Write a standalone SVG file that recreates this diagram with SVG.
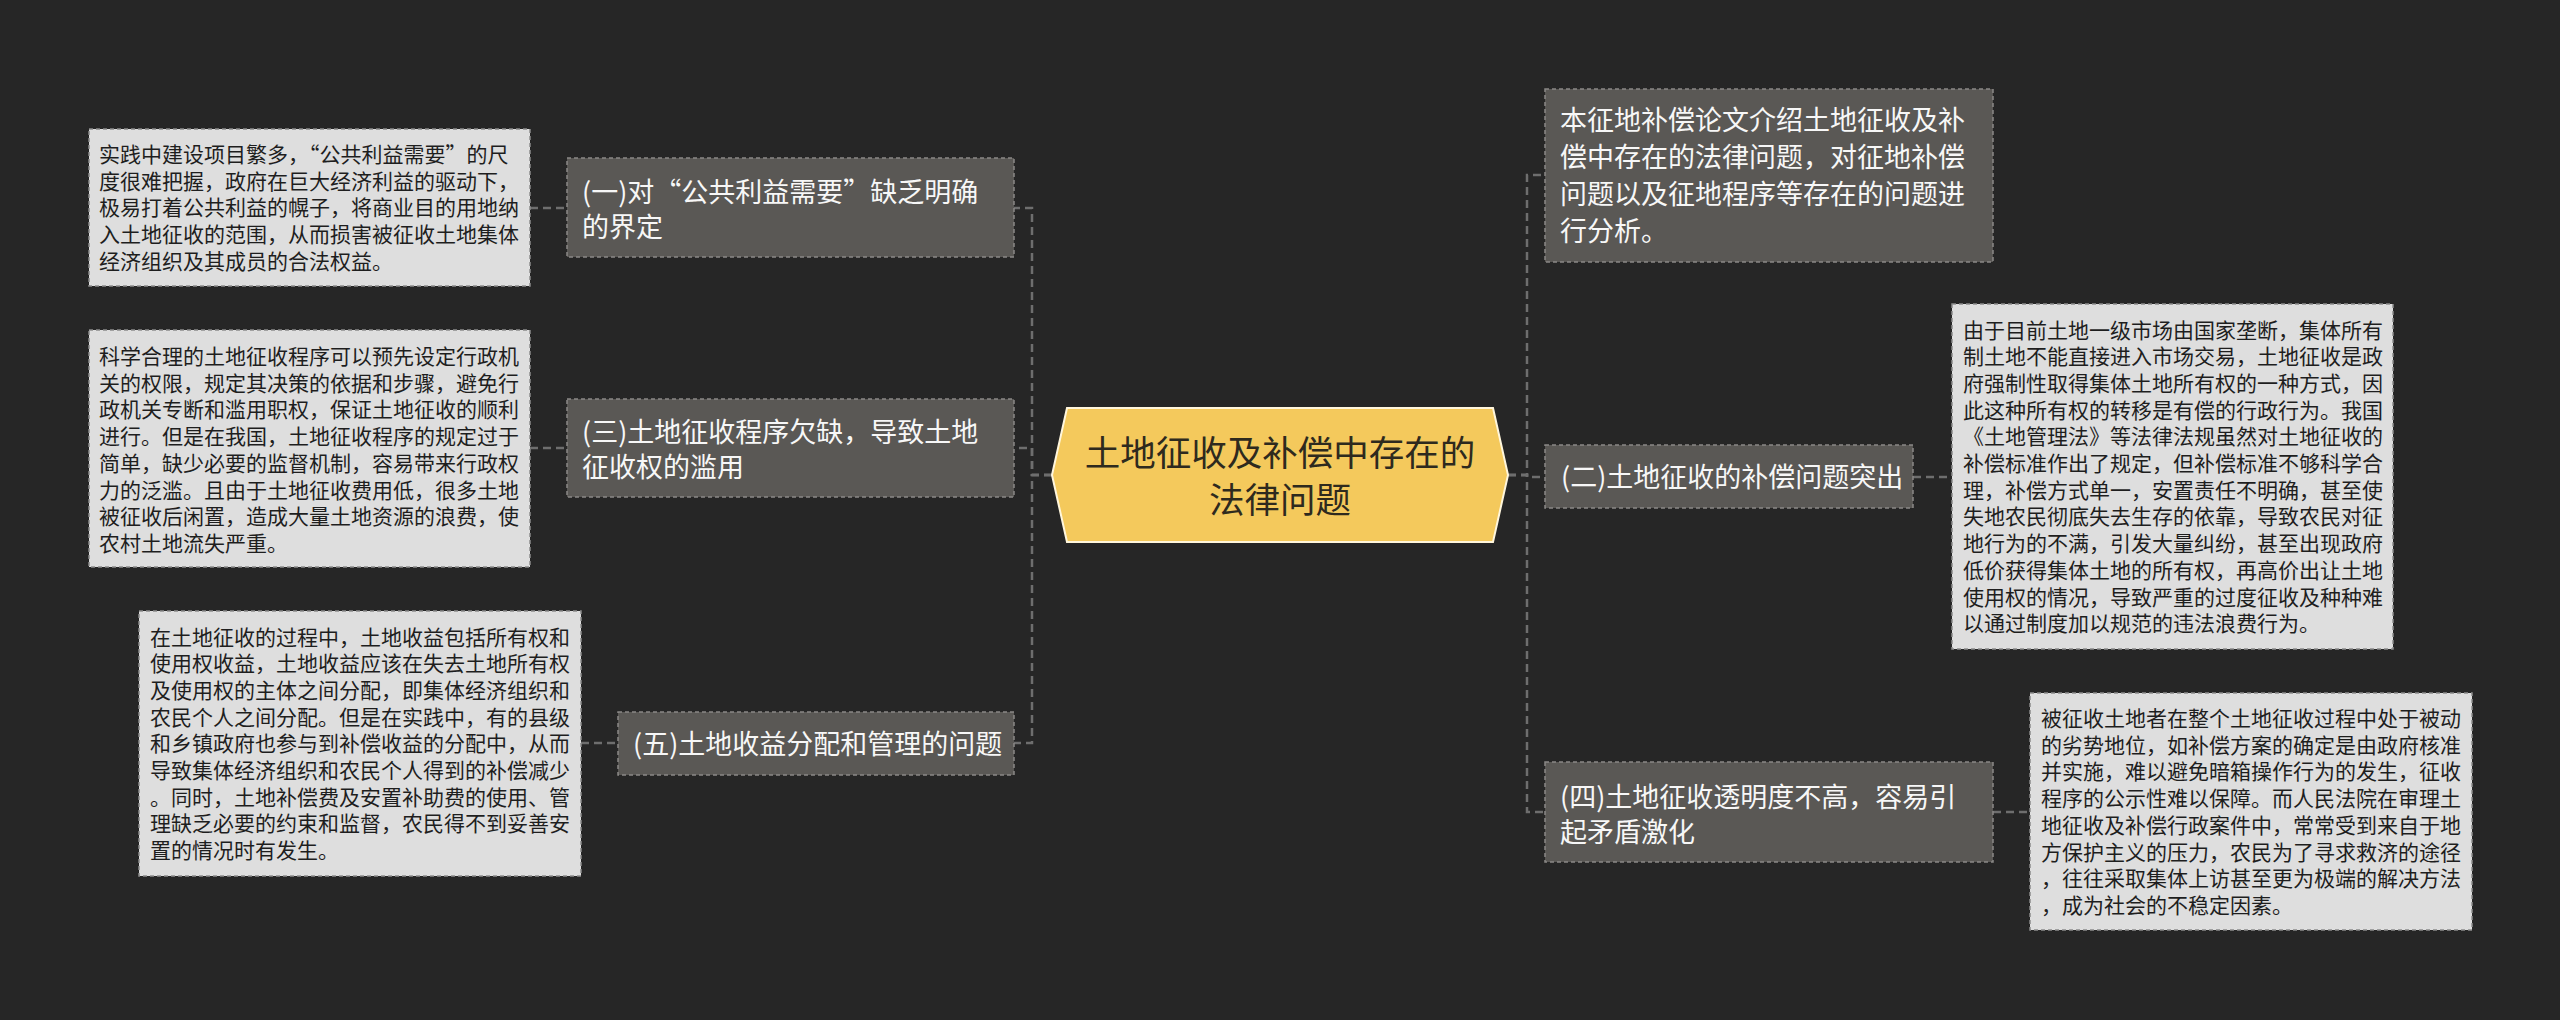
<svg xmlns="http://www.w3.org/2000/svg" width="2560" height="1020" viewBox="0 0 2560 1020">
<style>
.bg{fill:#262626}
.node rect{fill:#5a5855;stroke:#8a8886;stroke-width:1.5;stroke-dasharray:4 3}
.detail rect{fill:#dedede;stroke:#8c8c8c;stroke-width:1.5;stroke-dasharray:4 3}
.nt{font-family:"Noto Sans CJK SC","Noto Sans",sans-serif;font-size:27px;fill:#f7f7f7}
.dt{font-family:"Noto Sans CJK SC","Noto Sans",sans-serif;font-size:21px;fill:#1e1e1e}
.ct{font-family:"Noto Sans CJK SC","Noto Sans",sans-serif;font-size:35.5px;fill:#2e2a1e;text-anchor:middle}
.conn path{fill:none;stroke:#6e6e6e;stroke-width:2.5;stroke-dasharray:8 5}
</style>
<rect class="bg" x="0" y="0" width="2560" height="1020"/>

<g id="connectors" class="conn">
<path d="M1052,475 H1032 V208 H1014"/>
<path d="M1052,475 H1032 V448 H1014"/>
<path d="M1052,475 H1032 V743 H1014"/>
<path d="M1508,475 H1527 V175 H1545"/>
<path d="M1508,475 H1527 V477 H1545"/>
<path d="M1508,475 H1527 V812 H1545"/>
<path d="M530,208 H567"/>
<path d="M530,448 H567"/>
<path d="M581,743 H618"/>
<path d="M1913,477 H1952"/>
<path d="M1993,812 H2030"/>
</g>

<g id="center">
<polygon points="1052,475 1067,408 1493,408 1508,475 1493,542 1067,542" fill="#f4c95c" stroke="#fff6dc" stroke-width="2"/>
<text class="ct" x="1280" y="466">土地征收及补偿中存在的</text>
<text class="ct" x="1280" y="513">法律问题</text>
</g>

<g id="n1" class="node">
<rect x="567" y="158" width="447" height="99"/>
<text class="nt" x="582" y="202">(一)对“公共利益需要”缺乏明确</text>
<text class="nt" x="582" y="237">的界定</text>
</g>

<g id="n3" class="node">
<rect x="567" y="399" width="447" height="98"/>
<text class="nt" x="582" y="442">(三)土地征收程序欠缺，导致土地</text>
<text class="nt" x="582" y="477">征收权的滥用</text>
</g>

<g id="n5" class="node">
<rect x="618" y="712" width="396" height="63"/>
<text class="nt" x="633" y="753.5">(五)土地收益分配和管理的问题</text>
</g>

<g id="n0" class="node">
<rect x="1545" y="89" width="448" height="173"/>
<text class="nt" x="1560" y="130">本征地补偿论文介绍土地征收及补</text>
<text class="nt" x="1560" y="167">偿中存在的法律问题，对征地补偿</text>
<text class="nt" x="1560" y="204">问题以及征地程序等存在的问题进</text>
<text class="nt" x="1560" y="241">行分析。</text>
</g>

<g id="n2" class="node">
<rect x="1545" y="445" width="368" height="63"/>
<text class="nt" x="1561" y="486.5">(二)土地征收的补偿问题突出</text>
</g>

<g id="n4" class="node">
<rect x="1545" y="762" width="448" height="100"/>
<text class="nt" x="1560" y="807">(四)土地征收透明度不高，容易引</text>
<text class="nt" x="1560" y="842">起矛盾激化</text>
</g>

<g id="d1" class="detail">
<rect x="89" y="129" width="441" height="157"/>
<text class="dt" x="99" y="162">实践中建设项目繁多，“公共利益需要”的尺</text>
<text class="dt" x="99" y="188.7">度很难把握，政府在巨大经济利益的驱动下，</text>
<text class="dt" x="99" y="215.4">极易打着公共利益的幌子，将商业目的用地纳</text>
<text class="dt" x="99" y="242.1">入土地征收的范围，从而损害被征收土地集体</text>
<text class="dt" x="99" y="268.8">经济组织及其成员的合法权益。</text>
</g>

<g id="d3" class="detail">
<rect x="89" y="330" width="441" height="237"/>
<text class="dt" x="99" y="364">科学合理的土地征收程序可以预先设定行政机</text>
<text class="dt" x="99" y="390.7">关的权限，规定其决策的依据和步骤，避免行</text>
<text class="dt" x="99" y="417.4">政机关专断和滥用职权，保证土地征收的顺利</text>
<text class="dt" x="99" y="444.1">进行。但是在我国，土地征收程序的规定过于</text>
<text class="dt" x="99" y="470.8">简单，缺少必要的监督机制，容易带来行政权</text>
<text class="dt" x="99" y="497.5">力的泛滥。且由于土地征收费用低，很多土地</text>
<text class="dt" x="99" y="524.2">被征收后闲置，造成大量土地资源的浪费，使</text>
<text class="dt" x="99" y="550.9">农村土地流失严重。</text>
</g>

<g id="d5" class="detail">
<rect x="139" y="611" width="442" height="265"/>
<text class="dt" x="150" y="644.5">在土地征收的过程中，土地收益包括所有权和</text>
<text class="dt" x="150" y="671.2">使用权收益，土地收益应该在失去土地所有权</text>
<text class="dt" x="150" y="697.9">及使用权的主体之间分配，即集体经济组织和</text>
<text class="dt" x="150" y="724.6">农民个人之间分配。但是在实践中，有的县级</text>
<text class="dt" x="150" y="751.3">和乡镇政府也参与到补偿收益的分配中，从而</text>
<text class="dt" x="150" y="778">导致集体经济组织和农民个人得到的补偿减少</text>
<text class="dt" x="150" y="804.7">。同时，土地补偿费及安置补助费的使用、管</text>
<text class="dt" x="150" y="831.4">理缺乏必要的约束和监督，农民得不到妥善安</text>
<text class="dt" x="150" y="858.1">置的情况时有发生。</text>
</g>

<g id="d2" class="detail">
<rect x="1952" y="304" width="441" height="345"/>
<text class="dt" x="1963" y="337.5">由于目前土地一级市场由国家垄断，集体所有</text>
<text class="dt" x="1963" y="364.2">制土地不能直接进入市场交易，土地征收是政</text>
<text class="dt" x="1963" y="390.9">府强制性取得集体土地所有权的一种方式，因</text>
<text class="dt" x="1963" y="417.6">此这种所有权的转移是有偿的行政行为。我国</text>
<text class="dt" x="1963" y="444.3">《土地管理法》等法律法规虽然对土地征收的</text>
<text class="dt" x="1963" y="471">补偿标准作出了规定，但补偿标准不够科学合</text>
<text class="dt" x="1963" y="497.7">理，补偿方式单一，安置责任不明确，甚至使</text>
<text class="dt" x="1963" y="524.4">失地农民彻底失去生存的依靠，导致农民对征</text>
<text class="dt" x="1963" y="551.1">地行为的不满，引发大量纠纷，甚至出现政府</text>
<text class="dt" x="1963" y="577.8">低价获得集体土地的所有权，再高价出让土地</text>
<text class="dt" x="1963" y="604.5">使用权的情况，导致严重的过度征收及种种难</text>
<text class="dt" x="1963" y="631.2">以通过制度加以规范的违法浪费行为。</text>
</g>

<g id="d4" class="detail">
<rect x="2030" y="693" width="442" height="237"/>
<text class="dt" x="2041" y="726">被征收土地者在整个土地征收过程中处于被动</text>
<text class="dt" x="2041" y="752.7">的劣势地位，如补偿方案的确定是由政府核准</text>
<text class="dt" x="2041" y="779.4">并实施，难以避免暗箱操作行为的发生，征收</text>
<text class="dt" x="2041" y="806.1">程序的公示性难以保障。而人民法院在审理土</text>
<text class="dt" x="2041" y="832.8">地征收及补偿行政案件中，常常受到来自于地</text>
<text class="dt" x="2041" y="859.5">方保护主义的压力，农民为了寻求救济的途径</text>
<text class="dt" x="2041" y="886.2">，往往采取集体上访甚至更为极端的解决方法</text>
<text class="dt" x="2041" y="912.9">，成为社会的不稳定因素。</text>
</g>
</svg>
